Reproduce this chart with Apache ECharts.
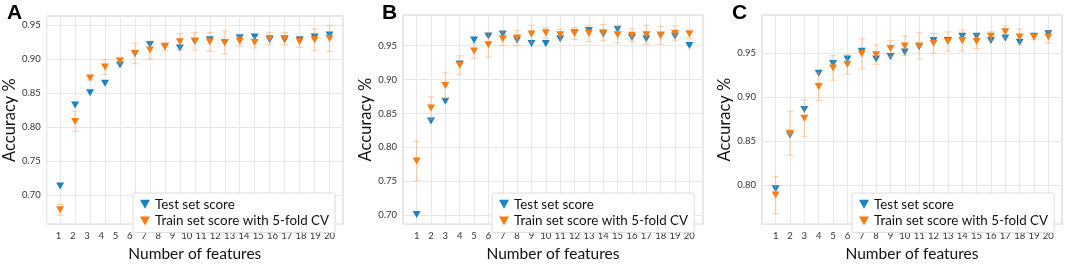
<!DOCTYPE html>
<html>
<head>
<meta charset="utf-8">
<title>Accuracy vs number of features</title>
<script src="https://cdn.jsdelivr.net/npm/echarts@6/dist/echarts.min.js"></script>
<style>
html, body { margin: 0; padding: 0; background: #fff; }
#chart { width: 1065px; height: 267px; }
</style>
</head>
<body>
<div id="chart"></div>
<script>
// tick labels on the x axes
var tickLabels = ['1', '2', '3', '4', '5', '6', '7', '8', '9', '10',
	'11', '12', '13', '14', '15', '16', '17', '18', '19', '20'];

// panel A has 19 points, B and C have 20
var featuresA = [1, 2, 3, 4, 5, 6, 7, 8, 9, 10, 11, 12, 13, 14, 15, 16, 17, 18, 19];
var featuresBC = [1, 2, 3, 4, 5, 6, 7, 8, 9, 10, 11, 12, 13, 14, 15, 16, 17, 18, 19, 20];

var testA = [0.713, 0.832, 0.850, 0.864, 0.891, 0.908, 0.921, 0.918, 0.916, 0.926,
	0.928, 0.924, 0.931, 0.932, 0.928, 0.928, 0.928, 0.932, 0.935];
var trainA = [0.678, 0.808, 0.872, 0.888, 0.897, 0.908, 0.913, 0.918, 0.925, 0.926,
	0.925, 0.924, 0.926, 0.924, 0.930, 0.930, 0.925, 0.928, 0.930];
var errA = [0.008, 0.015, 0.003, 0.011, 0.005, 0.015, 0.013, 0.006, 0.012, 0.013,
	0.014, 0.017, 0.007, 0.008, 0.009, 0.009, 0.008, 0.016, 0.019];

var testB = [0.701, 0.839, 0.868, 0.923, 0.958, 0.964, 0.967, 0.958, 0.953, 0.953,
	0.960, 0.969, 0.972, 0.967, 0.974, 0.962, 0.960, 0.965, 0.964, 0.950];
var trainB = [0.780, 0.858, 0.891, 0.921, 0.942, 0.951, 0.960, 0.961, 0.967, 0.969,
	0.966, 0.968, 0.968, 0.969, 0.966, 0.965, 0.966, 0.965, 0.968, 0.967];
var errB = [0.029, 0.017, 0.019, 0.014, 0.011, 0.018, 0.010, 0.011, 0.013, 0.008,
	0.008, 0.009, 0.012, 0.012, 0.012, 0.010, 0.014, 0.013, 0.011, 0.006];

var testC = [0.796, 0.857, 0.886, 0.927, 0.938, 0.943, 0.952, 0.943, 0.946, 0.951,
	0.957, 0.964, 0.964, 0.969, 0.969, 0.964, 0.967, 0.962, 0.969, 0.972];
var trainC = [0.789, 0.859, 0.876, 0.912, 0.933, 0.937, 0.949, 0.948, 0.955, 0.958,
	0.958, 0.961, 0.963, 0.964, 0.963, 0.969, 0.974, 0.968, 0.968, 0.968];
var errC = [0.021, 0.025, 0.021, 0.016, 0.014, 0.011, 0.017, 0.011, 0.009, 0.011,
	0.015, 0.011, 0.011, 0.012, 0.008, 0.005, 0.007, 0.009, 0.003, 0.007];

var BLUE = '#1782c4';
var ORANGE = '#fb7d12';
var BAR = 'rgba(252, 150, 70, 0.38)';
var FONT = 'Lato';
var TRI = 'path://M0,0 L10,0 L5,9 Z';

var panels = [
	{letter: 'A', x: featuresA, test: testA, train: trainA, err: errA,
		left: 43, top: 16, ymin: 0.657, ymax: 0.963, xmin: 0.1, xmax: 19.9,
		lmin: 0.17, lmax: 20.95, legendLeft: 133, letterLeft: 7},
	{letter: 'B', x: featuresBC, test: testB, train: trainB, err: errB,
		left: 403, top: 15, ymin: 0.687, ymax: 0.995, xmin: 0.05, xmax: 20.95,
		legendLeft: 492, letterLeft: 382},
	{letter: 'C', x: featuresBC, test: testC, train: trainC, err: errC,
		left: 762, top: 15, ymin: 0.756, ymax: 0.993, xmin: 0.05, xmax: 20.95,
		legendLeft: 852, letterLeft: 732}
];

function xLabel(v) {
	var k = Math.round(v);
	if (Math.abs(v - k) > 1e-6 || k < 1 || k > tickLabels.length) return '';
	return tickLabels[k - 1];
}

function yLabel(v) {
	var k = Math.round(v / 0.05);
	if (Math.abs(v / 0.05 - k) > 1e-6) return '';
	return (k * 0.05).toFixed(2);
}

// error bar with caps, drawn through the axes
function errorBar(params, api) {
	var x = api.value(0);
	var lo = api.coord([x, api.value(1)]);
	var hi = api.coord([x, api.value(2)]);
	var cap = 3.5;
	var st = {stroke: BAR, lineWidth: 1.2};
	return {
		type: 'group',
		children: [
			{type: 'line', shape: {x1: lo[0], y1: lo[1], x2: hi[0], y2: hi[1]}, style: st},
			{type: 'line', shape: {x1: lo[0] - cap, y1: lo[1], x2: lo[0] + cap, y2: lo[1]}, style: st},
			{type: 'line', shape: {x1: hi[0] - cap, y1: hi[1], x2: hi[0] + cap, y2: hi[1]}, style: st}
		]
	};
}

var tickFont = {fontFamily: FONT, fontSize: 9.5, color: '#333'};
var grids = [], xAxes = [], yAxes = [], series = [], legends = [], graphics = [];

panels.forEach(function(p, i) {
	grids.push({
		left: p.left, top: p.top, width: 300, height: 235 - p.top,
		show: true, borderColor: '#cfcfcf', borderWidth: 1, backgroundColor: '#fff'
	});

	var hasLabelAxis = p.lmin != null;
	var dataAxisIndex = xAxes.length;
	var xName = {
		name: 'Number of features', nameLocation: 'middle', nameGap: 19,
		nameTextStyle: {fontFamily: FONT, fontSize: 15.5, color: '#111'}
	};
	var dataAxis = {
		gridIndex: i, type: 'value', min: p.xmin, max: p.xmax,
		minInterval: 1, maxInterval: 1,
		axisLine: {show: false}, axisTick: {show: false},
		axisLabel: Object.assign({show: !hasLabelAxis, formatter: xLabel, margin: 7}, tickFont),
		splitLine: {show: true, lineStyle: {color: '#e8e8e8', width: 1}}
	};
	if (!hasLabelAxis) Object.assign(dataAxis, xName);
	xAxes.push(dataAxis);
	if (hasLabelAxis) {
		xAxes.push(Object.assign({
			gridIndex: i, type: 'value', position: 'bottom', min: p.lmin, max: p.lmax,
			minInterval: 1, maxInterval: 1,
			axisLine: {show: false}, axisTick: {show: false}, splitLine: {show: false},
			axisLabel: Object.assign({formatter: xLabel, margin: 7}, tickFont)
		}, xName));
	}

	yAxes.push({
		gridIndex: i, type: 'value', min: p.ymin, max: p.ymax,
		minInterval: 0.05, maxInterval: 0.05,
		axisLine: {show: false}, axisTick: {show: false},
		axisLabel: Object.assign({formatter: yLabel, margin: 6}, tickFont),
		splitLine: {show: true, lineStyle: {color: '#e8e8e8', width: 1}},
		name: 'Accuracy %', nameLocation: 'middle', nameGap: 26,
		nameTextStyle: {fontFamily: FONT, fontSize: 16.5, color: '#111'}
	});

	series.push({
		name: 'Test set score', type: 'scatter',
		xAxisIndex: dataAxisIndex, yAxisIndex: i,
		data: p.x.map(function(f, j) { return [f, p.test[j]]; }),
		symbol: TRI, symbolSize: [8, 7],
		itemStyle: {color: BLUE, opacity: 1}, z: 2, silent: true
	});
	series.push({
		type: 'custom', xAxisIndex: dataAxisIndex, yAxisIndex: i,
		data: p.x.map(function(f, j) { return [f, p.train[j] - p.err[j], p.train[j] + p.err[j]]; }),
		renderItem: errorBar, z: 3, silent: true
	});
	series.push({
		name: 'Train set score with 5-fold CV', type: 'scatter',
		xAxisIndex: dataAxisIndex, yAxisIndex: i,
		data: p.x.map(function(f, j) { return [f, p.train[j]]; }),
		symbol: TRI, symbolSize: [8, 7],
		itemStyle: {color: ORANGE, opacity: 1}, z: 4, silent: true
	});

	legends.push({
		data: [
			{name: 'Test set score', icon: TRI},
			{name: 'Train set score with 5-fold CV', icon: TRI}
		],
		orient: 'vertical', left: p.legendLeft, top: 193,
		backgroundColor: '#fff', borderColor: '#dcdcdc', borderWidth: 1, borderRadius: 2,
		padding: [3, 6, 3, 7], itemGap: 0, itemWidth: 10, itemHeight: 9,
		selectedMode: false,
		textStyle: {fontFamily: FONT, fontSize: 13.4, lineHeight: 16.7, color: '#111'}
	});

	graphics.push({
		type: 'text', left: p.letterLeft, top: 3,
		style: {text: p.letter, font: 'bold 21px "Liberation Sans"', fill: '#000'}
	});
});

var chart = echarts.init(document.getElementById('chart'));
chart.setOption({
	animation: false,
	backgroundColor: '#fff',
	grid: grids,
	xAxis: xAxes,
	yAxis: yAxes,
	legend: legends,
	graphic: graphics,
	series: series
});
</script>
</body>
</html>
